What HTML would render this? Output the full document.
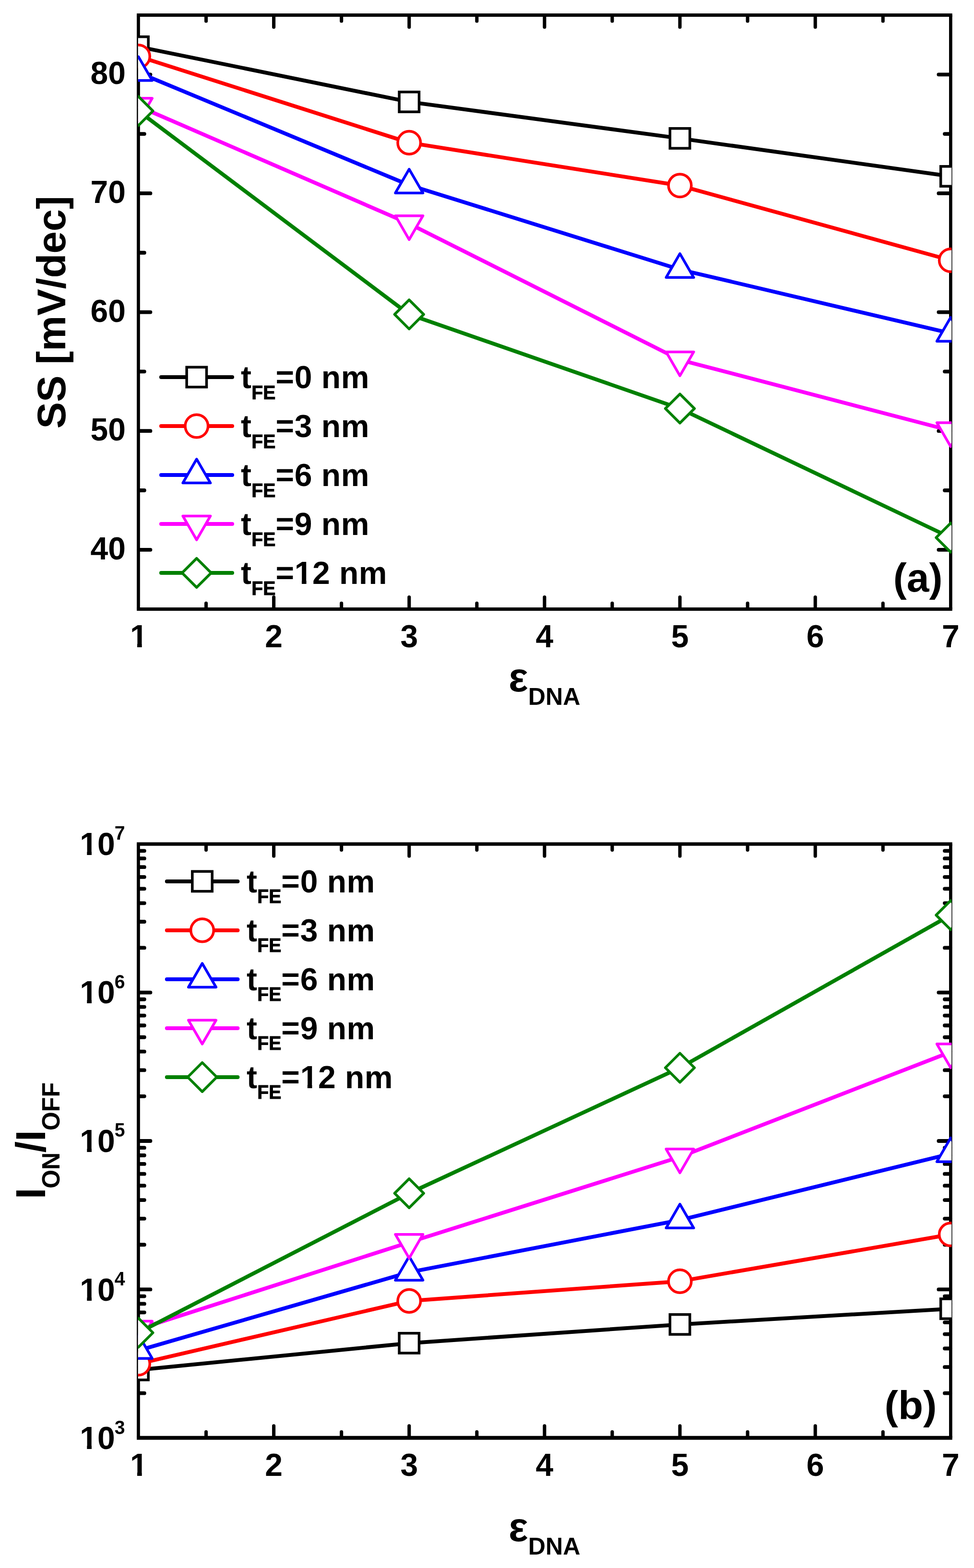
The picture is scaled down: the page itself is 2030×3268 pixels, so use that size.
<!DOCTYPE html>
<html lang="en">
<head>
<meta charset="utf-8">
<title>SS and ION/IOFF versus DNA permittivity</title>
<style>
html,body{margin:0;padding:0;background:#fff;}
body{width:2030px;height:3268px;overflow:hidden;}
svg{display:block;}
</style>
</head>
<body>
<svg width="2030" height="3268" viewBox="0 0 2030 3268" font-family='"Liberation Sans", sans-serif' font-weight="bold" fill="#000">
<rect width="2030" height="3268" fill="#fff"/>
<defs>
<clipPath id="ca"><rect x="287.8" y="28.5" width="1695.4" height="1244.1"/></clipPath>
<clipPath id="cb"><rect x="287.8" y="1756.2" width="1695.4" height="1243.6"/></clipPath>
<clipPath id="c1"><path clip-rule="evenodd" d="M-20 -90H420V50H-20ZM2.66 -7.54H15.1V3H2.66ZM24.76 -7.54H36.37V3H24.76Z"/></clipPath>
<clipPath id="c2"><path clip-rule="evenodd" d="M-20 -90H420V50H-20ZM114.47 -7.54H126.92V3H114.47ZM136.57 -7.54H148.18V3H136.57Z"/></clipPath>
</defs>
<g stroke="#000" fill="none" stroke-linecap="round">
<path stroke-width="7" stroke-linecap="butt" d="M285.1 31.5H1984.7"/>
<path stroke-width="7" stroke-linecap="butt" d="M285.1 1269.6H1984.7"/>
<path stroke-width="6.7" stroke-linecap="butt" d="M288.45 31.5V1269.6M1981.35 31.5V1269.6"/>
<path stroke-width="7.1" d="M429.52 32.5v11.4M429.52 1268.6v-11.4M570.6 32.5v24M570.6 1268.6v-24M711.67 32.5v11.4M711.67 1268.6v-11.4M852.75 32.5v24M852.75 1268.6v-24M993.83 32.5v11.4M993.83 1268.6v-11.4M1134.9 32.5v24M1134.9 1268.6v-24M1275.97 32.5v11.4M1275.97 1268.6v-11.4M1417.05 32.5v24M1417.05 1268.6v-24M1558.12 32.5v11.4M1558.12 1268.6v-11.4M1699.2 32.5v24M1699.2 1268.6v-24M1840.27 32.5v11.4M1840.27 1268.6v-11.4"/>
<path stroke-width="7.8" d="M289.45 1145.79h24M1980.35 1145.79h-24M289.45 898.17h24M1980.35 898.17h-24M289.45 650.55h24M1980.35 650.55h-24M289.45 402.93h24M1980.35 402.93h-24M289.45 155.31h24M1980.35 155.31h-24M289.45 1021.98h11.4M1980.35 1021.98h-11.4M289.45 774.36h11.4M1980.35 774.36h-11.4M289.45 526.74h11.4M1980.35 526.74h-11.4M289.45 279.12h11.4M1980.35 279.12h-11.4"/>
</g>
<g clip-path="url(#ca)">
<polyline points="288.45,97.3 852.75,212.4 1417.05,288.4 1981.35,367.5" fill="none" stroke="#000000" stroke-width="8" stroke-linejoin="round"/>
<rect x="267.75" y="76.6" width="41.4" height="41.4" fill="#fff" stroke="#000000" stroke-width="5.5"/>
<rect x="832.05" y="191.7" width="41.4" height="41.4" fill="#fff" stroke="#000000" stroke-width="5.5"/>
<rect x="1396.35" y="267.7" width="41.4" height="41.4" fill="#fff" stroke="#000000" stroke-width="5.5"/>
<rect x="1960.65" y="346.8" width="41.4" height="41.4" fill="#fff" stroke="#000000" stroke-width="5.5"/>
<polyline points="288.45,117.5 852.75,297.4 1417.05,386.8 1981.35,542.5" fill="none" stroke="#ff0000" stroke-width="8" stroke-linejoin="round"/>
<circle cx="288.45" cy="117.5" r="23.8" fill="#fff" stroke="#ff0000" stroke-width="5.5"/>
<circle cx="852.75" cy="297.4" r="23.8" fill="#fff" stroke="#ff0000" stroke-width="5.5"/>
<circle cx="1417.05" cy="386.8" r="23.8" fill="#fff" stroke="#ff0000" stroke-width="5.5"/>
<circle cx="1981.35" cy="542.5" r="23.8" fill="#fff" stroke="#ff0000" stroke-width="5.5"/>
<polyline points="288.45,151.2 852.75,385.7 1417.05,561.8 1981.35,694.7" fill="none" stroke="#0000ff" stroke-width="8" stroke-linejoin="round"/>
<path d="M288.45 118.13L317.2 167.73L259.7 167.73Z" fill="#fff" stroke="#0000ff" stroke-width="5.5" stroke-linejoin="round"/>
<path d="M852.75 352.63L881.5 402.23L824 402.23Z" fill="#fff" stroke="#0000ff" stroke-width="5.5" stroke-linejoin="round"/>
<path d="M1417.05 528.73L1445.8 578.33L1388.3 578.33Z" fill="#fff" stroke="#0000ff" stroke-width="5.5" stroke-linejoin="round"/>
<path d="M1981.35 661.63L2010.1 711.23L1952.6 711.23Z" fill="#fff" stroke="#0000ff" stroke-width="5.5" stroke-linejoin="round"/>
<polyline points="288.45,221.4 852.75,466.2 1417.05,750 1981.35,897.5" fill="none" stroke="#ff00ff" stroke-width="8" stroke-linejoin="round"/>
<path d="M288.45 254.47L317.2 204.87L259.7 204.87Z" fill="#fff" stroke="#ff00ff" stroke-width="5.5" stroke-linejoin="round"/>
<path d="M852.75 499.27L881.5 449.67L824 449.67Z" fill="#fff" stroke="#ff00ff" stroke-width="5.5" stroke-linejoin="round"/>
<path d="M1417.05 783.07L1445.8 733.47L1388.3 733.47Z" fill="#fff" stroke="#ff00ff" stroke-width="5.5" stroke-linejoin="round"/>
<path d="M1981.35 930.57L2010.1 880.97L1952.6 880.97Z" fill="#fff" stroke="#ff00ff" stroke-width="5.5" stroke-linejoin="round"/>
<polyline points="288.45,231.3 852.75,655.3 1417.05,851.5 1981.35,1120.5" fill="none" stroke="#008000" stroke-width="8" stroke-linejoin="round"/>
<path d="M288.45 201L318.75 231.3L288.45 261.6L258.15 231.3Z" fill="#fff" stroke="#008000" stroke-width="5.5" stroke-linejoin="round"/>
<path d="M852.75 625L883.05 655.3L852.75 685.6L822.45 655.3Z" fill="#fff" stroke="#008000" stroke-width="5.5" stroke-linejoin="round"/>
<path d="M1417.05 821.2L1447.35 851.5L1417.05 881.8L1386.75 851.5Z" fill="#fff" stroke="#008000" stroke-width="5.5" stroke-linejoin="round"/>
<path d="M1981.35 1090.2L2011.65 1120.5L1981.35 1150.8L1951.05 1120.5Z" fill="#fff" stroke="#008000" stroke-width="5.5" stroke-linejoin="round"/>
</g>
<path d="M335.9 786H484" stroke="#000000" stroke-width="8" stroke-linecap="round" fill="none"/>
<rect x="389.1" y="765.3" width="41.4" height="41.4" fill="#fff" stroke="#000000" stroke-width="5.5"/>
<text transform="translate(502 809.2) scale(1 1.02)" font-size="66">t<tspan font-size="39.2" dy="22.25" dx="0.4" stroke="#000" stroke-width="0.9">FE</tspan><tspan dy="-22.25">=</tspan><tspan dx="0.8" letter-spacing="0.5">0 nm</tspan></text>
<path d="M335.9 888H484" stroke="#ff0000" stroke-width="8" stroke-linecap="round" fill="none"/>
<circle cx="409.8" cy="888" r="23.8" fill="#fff" stroke="#ff0000" stroke-width="5.5"/>
<text transform="translate(502 911.2) scale(1 1.02)" font-size="66">t<tspan font-size="39.2" dy="22.25" dx="0.4" stroke="#000" stroke-width="0.9">FE</tspan><tspan dy="-22.25">=</tspan><tspan dx="0.8" letter-spacing="0.5">3 nm</tspan></text>
<path d="M335.9 990H484" stroke="#0000ff" stroke-width="8" stroke-linecap="round" fill="none"/>
<path d="M409.8 956.93L438.55 1006.53L381.05 1006.53Z" fill="#fff" stroke="#0000ff" stroke-width="5.5" stroke-linejoin="round"/>
<text transform="translate(502 1013.2) scale(1 1.02)" font-size="66">t<tspan font-size="39.2" dy="22.25" dx="0.4" stroke="#000" stroke-width="0.9">FE</tspan><tspan dy="-22.25">=</tspan><tspan dx="0.8" letter-spacing="0.5">6 nm</tspan></text>
<path d="M335.9 1092H484" stroke="#ff00ff" stroke-width="8" stroke-linecap="round" fill="none"/>
<path d="M409.8 1125.07L438.55 1075.47L381.05 1075.47Z" fill="#fff" stroke="#ff00ff" stroke-width="5.5" stroke-linejoin="round"/>
<text transform="translate(502 1115.2) scale(1 1.02)" font-size="66">t<tspan font-size="39.2" dy="22.25" dx="0.4" stroke="#000" stroke-width="0.9">FE</tspan><tspan dy="-22.25">=</tspan><tspan dx="0.8" letter-spacing="0.5">9 nm</tspan></text>
<path d="M335.9 1194H484" stroke="#008000" stroke-width="8" stroke-linecap="round" fill="none"/>
<path d="M409.8 1163.7L440.1 1194L409.8 1224.3L379.5 1194Z" fill="#fff" stroke="#008000" stroke-width="5.5" stroke-linejoin="round"/>
<g transform="translate(502 1217.2) scale(1 1.02)" clip-path="url(#c2)"><text font-size="66">t<tspan font-size="39.2" dy="22.25" dx="0.4" stroke="#000" stroke-width="0.9">FE</tspan><tspan dy="-22.25">=</tspan><tspan dx="0.8" letter-spacing="0.5">12 nm</tspan></text></g>
<text transform="translate(262 1165.79) scale(1 1.02)" font-size="66" text-anchor="end">40</text>
<text transform="translate(262 918.17) scale(1 1.02)" font-size="66" text-anchor="end">50</text>
<text transform="translate(262 670.55) scale(1 1.02)" font-size="66" text-anchor="end">60</text>
<text transform="translate(262 422.93) scale(1 1.02)" font-size="66" text-anchor="end">70</text>
<text transform="translate(262 175.31) scale(1 1.02)" font-size="66" text-anchor="end">80</text>
<g transform="translate(270.9 1349.4) scale(1 1.02)" clip-path="url(#c1)"><text font-size="66">1</text></g>
<text transform="translate(570.6 1349.4) scale(1 1.02)" font-size="66" text-anchor="middle">2</text>
<text transform="translate(852.75 1349.4) scale(1 1.02)" font-size="66" text-anchor="middle">3</text>
<text transform="translate(1134.9 1349.4) scale(1 1.02)" font-size="66" text-anchor="middle">4</text>
<text transform="translate(1417.05 1349.4) scale(1 1.02)" font-size="66" text-anchor="middle">5</text>
<text transform="translate(1699.2 1349.4) scale(1 1.02)" font-size="66" text-anchor="middle">6</text>
<text transform="translate(1981.35 1349.4) scale(1 1.02)" font-size="66" text-anchor="middle">7</text>
<text transform="translate(136 893.5) rotate(-90) scale(0.99 1)" font-size="84">SS [mV/dec]</text>
<text transform="translate(1059.9 1441.1) scale(1.02 1.02)" font-size="84">ε<tspan font-size="49.22" dy="27.55" dx="0.2">DNA</tspan></text>
<text transform="translate(1861.8 1232.7)" font-size="84">(a)</text>
<g stroke="#000" fill="none" stroke-linecap="round">
<path stroke-width="7.3" stroke-linecap="butt" d="M285.1 1759.2H1984.7"/>
<path stroke-width="7.9" stroke-linecap="butt" d="M285.1 2996.8H1984.7"/>
<path stroke-width="6.7" stroke-linecap="butt" d="M288.45 1759.2V2996.8M1981.35 1759.2V2996.8"/>
<path stroke-width="7.1" d="M429.52 1760.2v11.4M429.52 2995.8v-11.4M570.6 1760.2v24M570.6 2995.8v-24M711.67 1760.2v11.4M711.67 2995.8v-11.4M852.75 1760.2v24M852.75 2995.8v-24M993.83 1760.2v11.4M993.83 2995.8v-11.4M1134.9 1760.2v24M1134.9 2995.8v-24M1275.97 1760.2v11.4M1275.97 2995.8v-11.4M1417.05 1760.2v24M1417.05 2995.8v-24M1558.12 1760.2v11.4M1558.12 2995.8v-11.4M1699.2 1760.2v24M1699.2 2995.8v-24M1840.27 1760.2v11.4M1840.27 2995.8v-11.4"/>
<path stroke-width="7.8" d="M289.45 2687.4h24M1980.35 2687.4h-24M289.45 2378h24M1980.35 2378h-24M289.45 2068.6h24M1980.35 2068.6h-24M289.45 2903.66h11.4M1980.35 2903.66h-11.4M289.45 2849.18h11.4M1980.35 2849.18h-11.4M289.45 2810.52h11.4M1980.35 2810.52h-11.4M289.45 2780.54h11.4M1980.35 2780.54h-11.4M289.45 2756.04h11.4M1980.35 2756.04h-11.4M289.45 2735.33h11.4M1980.35 2735.33h-11.4M289.45 2717.38h11.4M1980.35 2717.38h-11.4M289.45 2701.56h11.4M1980.35 2701.56h-11.4M289.45 2594.26h11.4M1980.35 2594.26h-11.4M289.45 2539.78h11.4M1980.35 2539.78h-11.4M289.45 2501.12h11.4M1980.35 2501.12h-11.4M289.45 2471.14h11.4M1980.35 2471.14h-11.4M289.45 2446.64h11.4M1980.35 2446.64h-11.4M289.45 2425.93h11.4M1980.35 2425.93h-11.4M289.45 2407.98h11.4M1980.35 2407.98h-11.4M289.45 2392.16h11.4M1980.35 2392.16h-11.4M289.45 2284.86h11.4M1980.35 2284.86h-11.4M289.45 2230.38h11.4M1980.35 2230.38h-11.4M289.45 2191.72h11.4M1980.35 2191.72h-11.4M289.45 2161.74h11.4M1980.35 2161.74h-11.4M289.45 2137.24h11.4M1980.35 2137.24h-11.4M289.45 2116.53h11.4M1980.35 2116.53h-11.4M289.45 2098.58h11.4M1980.35 2098.58h-11.4M289.45 2082.76h11.4M1980.35 2082.76h-11.4M289.45 1975.46h11.4M1980.35 1975.46h-11.4M289.45 1920.98h11.4M1980.35 1920.98h-11.4M289.45 1882.32h11.4M1980.35 1882.32h-11.4M289.45 1852.34h11.4M1980.35 1852.34h-11.4M289.45 1827.84h11.4M1980.35 1827.84h-11.4M289.45 1807.13h11.4M1980.35 1807.13h-11.4M289.45 1789.18h11.4M1980.35 1789.18h-11.4M289.45 1773.36h11.4M1980.35 1773.36h-11.4"/>
</g>
<g clip-path="url(#cb)">
<polyline points="288.45,2855.3 852.75,2799.4 1417.05,2760.4 1981.35,2727.7" fill="none" stroke="#000000" stroke-width="8" stroke-linejoin="round"/>
<rect x="267.75" y="2834.6" width="41.4" height="41.4" fill="#fff" stroke="#000000" stroke-width="5.5"/>
<rect x="832.05" y="2778.7" width="41.4" height="41.4" fill="#fff" stroke="#000000" stroke-width="5.5"/>
<rect x="1396.35" y="2739.7" width="41.4" height="41.4" fill="#fff" stroke="#000000" stroke-width="5.5"/>
<rect x="1960.65" y="2707" width="41.4" height="41.4" fill="#fff" stroke="#000000" stroke-width="5.5"/>
<polyline points="288.45,2842.3 852.75,2711.4 1417.05,2670.4 1981.35,2572.8" fill="none" stroke="#ff0000" stroke-width="8" stroke-linejoin="round"/>
<circle cx="288.45" cy="2842.3" r="23.8" fill="#fff" stroke="#ff0000" stroke-width="5.5"/>
<circle cx="852.75" cy="2711.4" r="23.8" fill="#fff" stroke="#ff0000" stroke-width="5.5"/>
<circle cx="1417.05" cy="2670.4" r="23.8" fill="#fff" stroke="#ff0000" stroke-width="5.5"/>
<circle cx="1981.35" cy="2572.8" r="23.8" fill="#fff" stroke="#ff0000" stroke-width="5.5"/>
<polyline points="288.45,2814.6 852.75,2651.6 1417.05,2542.8 1981.35,2404.6" fill="none" stroke="#0000ff" stroke-width="8" stroke-linejoin="round"/>
<path d="M288.45 2781.53L317.2 2831.13L259.7 2831.13Z" fill="#fff" stroke="#0000ff" stroke-width="5.5" stroke-linejoin="round"/>
<path d="M852.75 2618.53L881.5 2668.13L824 2668.13Z" fill="#fff" stroke="#0000ff" stroke-width="5.5" stroke-linejoin="round"/>
<path d="M1417.05 2509.73L1445.8 2559.33L1388.3 2559.33Z" fill="#fff" stroke="#0000ff" stroke-width="5.5" stroke-linejoin="round"/>
<path d="M1981.35 2371.53L2010.1 2421.13L1952.6 2421.13Z" fill="#fff" stroke="#0000ff" stroke-width="5.5" stroke-linejoin="round"/>
<polyline points="288.45,2770.1 852.75,2589.2 1417.05,2411.3 1981.35,2192.4" fill="none" stroke="#ff00ff" stroke-width="8" stroke-linejoin="round"/>
<path d="M288.45 2803.17L317.2 2753.57L259.7 2753.57Z" fill="#fff" stroke="#ff00ff" stroke-width="5.5" stroke-linejoin="round"/>
<path d="M852.75 2622.27L881.5 2572.67L824 2572.67Z" fill="#fff" stroke="#ff00ff" stroke-width="5.5" stroke-linejoin="round"/>
<path d="M1417.05 2444.37L1445.8 2394.77L1388.3 2394.77Z" fill="#fff" stroke="#ff00ff" stroke-width="5.5" stroke-linejoin="round"/>
<path d="M1981.35 2225.47L2010.1 2175.87L1952.6 2175.87Z" fill="#fff" stroke="#ff00ff" stroke-width="5.5" stroke-linejoin="round"/>
<polyline points="288.45,2777.6 852.75,2487 1417.05,2225.4 1981.35,1907.3" fill="none" stroke="#008000" stroke-width="8" stroke-linejoin="round"/>
<path d="M288.45 2747.3L318.75 2777.6L288.45 2807.9L258.15 2777.6Z" fill="#fff" stroke="#008000" stroke-width="5.5" stroke-linejoin="round"/>
<path d="M852.75 2456.7L883.05 2487L852.75 2517.3L822.45 2487Z" fill="#fff" stroke="#008000" stroke-width="5.5" stroke-linejoin="round"/>
<path d="M1417.05 2195.1L1447.35 2225.4L1417.05 2255.7L1386.75 2225.4Z" fill="#fff" stroke="#008000" stroke-width="5.5" stroke-linejoin="round"/>
<path d="M1981.35 1877L2011.65 1907.3L1981.35 1937.6L1951.05 1907.3Z" fill="#fff" stroke="#008000" stroke-width="5.5" stroke-linejoin="round"/>
</g>
<path d="M347.8 1836.9H495.4" stroke="#000000" stroke-width="8" stroke-linecap="round" fill="none"/>
<rect x="400.8" y="1816.2" width="41.4" height="41.4" fill="#fff" stroke="#000000" stroke-width="5.5"/>
<text transform="translate(513.9 1859.5) scale(1 1.02)" font-size="66">t<tspan font-size="39.2" dy="22.25" dx="0.4" stroke="#000" stroke-width="0.9">FE</tspan><tspan dy="-22.25">=</tspan><tspan dx="0.8" letter-spacing="0.5">0 nm</tspan></text>
<path d="M347.8 1938.9H495.4" stroke="#ff0000" stroke-width="8" stroke-linecap="round" fill="none"/>
<circle cx="421.5" cy="1938.9" r="23.8" fill="#fff" stroke="#ff0000" stroke-width="5.5"/>
<text transform="translate(513.9 1961.5) scale(1 1.02)" font-size="66">t<tspan font-size="39.2" dy="22.25" dx="0.4" stroke="#000" stroke-width="0.9">FE</tspan><tspan dy="-22.25">=</tspan><tspan dx="0.8" letter-spacing="0.5">3 nm</tspan></text>
<path d="M347.8 2040.9H495.4" stroke="#0000ff" stroke-width="8" stroke-linecap="round" fill="none"/>
<path d="M421.5 2007.83L450.25 2057.43L392.75 2057.43Z" fill="#fff" stroke="#0000ff" stroke-width="5.5" stroke-linejoin="round"/>
<text transform="translate(513.9 2063.5) scale(1 1.02)" font-size="66">t<tspan font-size="39.2" dy="22.25" dx="0.4" stroke="#000" stroke-width="0.9">FE</tspan><tspan dy="-22.25">=</tspan><tspan dx="0.8" letter-spacing="0.5">6 nm</tspan></text>
<path d="M347.8 2142.9H495.4" stroke="#ff00ff" stroke-width="8" stroke-linecap="round" fill="none"/>
<path d="M421.5 2175.97L450.25 2126.37L392.75 2126.37Z" fill="#fff" stroke="#ff00ff" stroke-width="5.5" stroke-linejoin="round"/>
<text transform="translate(513.9 2165.5) scale(1 1.02)" font-size="66">t<tspan font-size="39.2" dy="22.25" dx="0.4" stroke="#000" stroke-width="0.9">FE</tspan><tspan dy="-22.25">=</tspan><tspan dx="0.8" letter-spacing="0.5">9 nm</tspan></text>
<path d="M347.8 2244.9H495.4" stroke="#008000" stroke-width="8" stroke-linecap="round" fill="none"/>
<path d="M421.5 2214.6L451.8 2244.9L421.5 2275.2L391.2 2244.9Z" fill="#fff" stroke="#008000" stroke-width="5.5" stroke-linejoin="round"/>
<g transform="translate(513.9 2267.5) scale(1 1.02)" clip-path="url(#c2)"><text font-size="66">t<tspan font-size="39.2" dy="22.25" dx="0.4" stroke="#000" stroke-width="0.9">FE</tspan><tspan dy="-22.25">=</tspan><tspan dx="0.8" letter-spacing="0.5">12 nm</tspan></text></g>
<g transform="translate(166.2 3020.4) scale(1 1.02)" clip-path="url(#c1)"><text font-size="66">10<tspan font-size="39.2" dy="-30.98" dx="-0.9">3</tspan></text></g>
<g transform="translate(166.2 2710.7) scale(1 1.02)" clip-path="url(#c1)"><text font-size="66">10<tspan font-size="39.2" dy="-30.98" dx="-0.9">4</tspan></text></g>
<g transform="translate(166.2 2401) scale(1 1.02)" clip-path="url(#c1)"><text font-size="66">10<tspan font-size="39.2" dy="-30.98" dx="-0.9">5</tspan></text></g>
<g transform="translate(166.2 2091.3) scale(1 1.02)" clip-path="url(#c1)"><text font-size="66">10<tspan font-size="39.2" dy="-30.98" dx="-0.9">6</tspan></text></g>
<g transform="translate(166.2 1781.6) scale(1 1.02)" clip-path="url(#c1)"><text font-size="66">10<tspan font-size="39.2" dy="-30.98" dx="-0.9">7</tspan></text></g>
<g transform="translate(270.9 3076) scale(1 1.02)" clip-path="url(#c1)"><text font-size="66">1</text></g>
<text transform="translate(570.6 3076) scale(1 1.02)" font-size="66" text-anchor="middle">2</text>
<text transform="translate(852.75 3076) scale(1 1.02)" font-size="66" text-anchor="middle">3</text>
<text transform="translate(1134.9 3076) scale(1 1.02)" font-size="66" text-anchor="middle">4</text>
<text transform="translate(1417.05 3076) scale(1 1.02)" font-size="66" text-anchor="middle">5</text>
<text transform="translate(1699.2 3076) scale(1 1.02)" font-size="66" text-anchor="middle">6</text>
<text transform="translate(1981.35 3076) scale(1 1.02)" font-size="66" text-anchor="middle">7</text>
<text transform="translate(93.9 2499.1) rotate(-90) scale(1 1.03)" font-size="84">I<tspan font-size="50.2" dy="29.13" dx="-1.3">ON</tspan><tspan dy="-29.13" dx="-0.4">/I</tspan><tspan font-size="50.2" dy="29.13" dx="-0.7">OFF</tspan></text>
<text transform="translate(1059.9 3212) scale(1.02 1.02)" font-size="84">ε<tspan font-size="49.22" dy="27.55" dx="0.2">DNA</tspan></text>
<text transform="translate(1843.6 2958) scale(1.015 1)" font-size="84">(b)</text>
</svg>
</body>
</html>
